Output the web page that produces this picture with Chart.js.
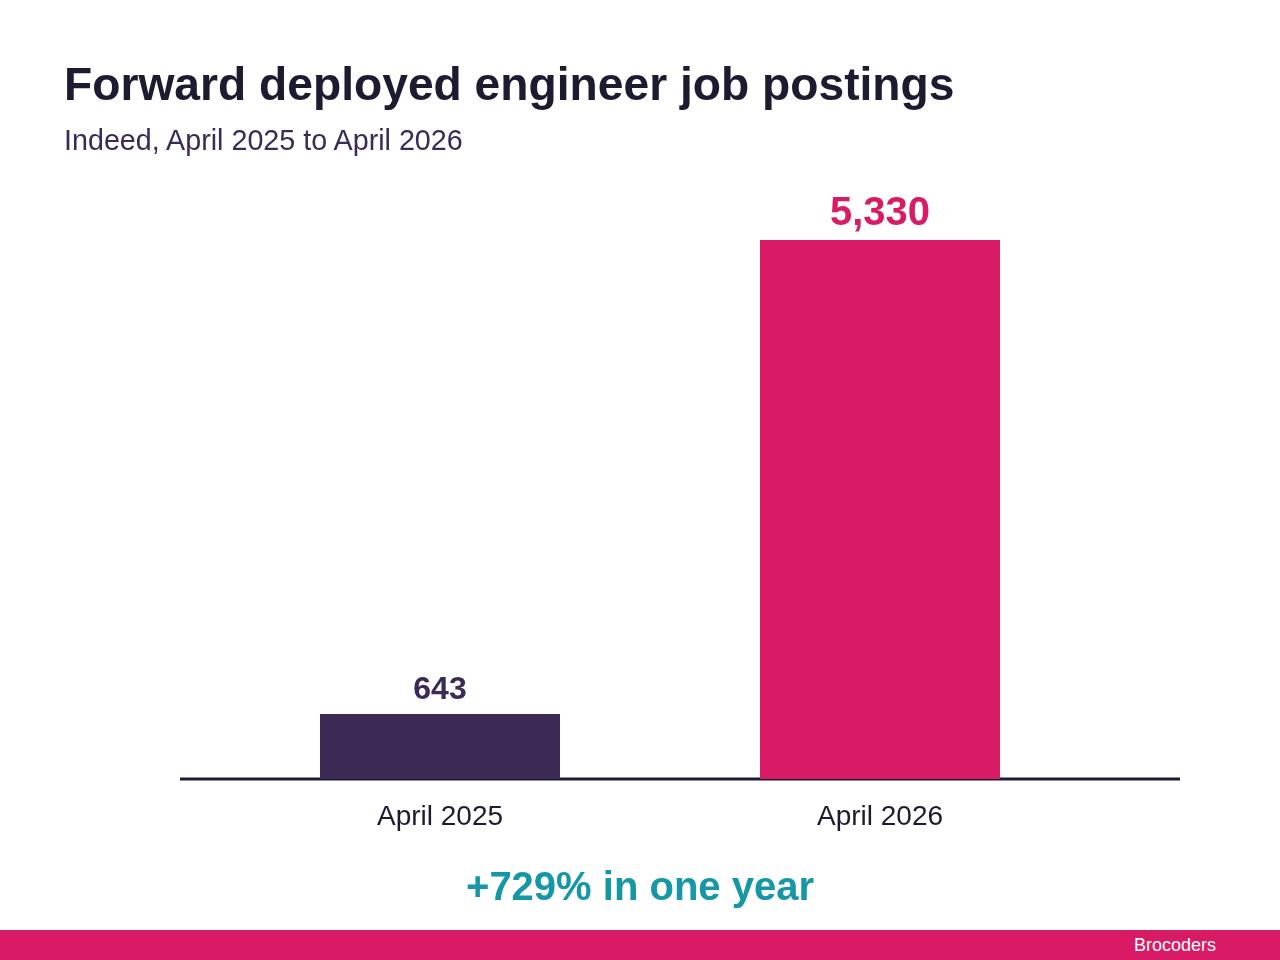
<!DOCTYPE html>
<html>
<head>
<meta charset="utf-8">
<script src="https://cdn.jsdelivr.net/npm/chart.js@4"></script>
<style>
  html, body { margin: 0; padding: 0; background: #fff; }
  body { width: 1280px; height: 960px; position: relative; overflow: hidden; font-family: "Liberation Sans", Arial, sans-serif; }
  #title { position: absolute; left: 64px; top: 57px; font-size: 46.2px; font-weight: bold; color: #1c1b30; }
  #subtitle { position: absolute; left: 64px; top: 124px; font-size: 28.7px; color: #3b2a55; }
  #wrap { position: absolute; left: 0; top: 0; width: 1280px; height: 960px; }
  #note { position: absolute; left: 0; width: 1280px; top: 864px; text-align: center; font-size: 40px; font-weight: bold; color: #1597a5; }
  #footer { position: absolute; left: 0; top: 930px; width: 1280px; height: 30px; background: #d91a64; }
  #footer span { position: absolute; right: 64px; top: 5px; color: #fff; font-size: 18px; }
</style>
</head>
<body>
<div id="wrap"><canvas id="chart"></canvas></div>
<div id="title">Forward deployed engineer job postings</div>
<div id="subtitle">Indeed, April 2025 to April 2026</div>
<div id="note">+729% in one year</div>
<div id="footer"><span>Brocoders</span></div>
<script>
const categories = ['April 2025', 'April 2026'];
const postings = [643, 5330];
const valueLabels = ['643', '5,330'];
const barColors = ['#3b2a55', '#d91a64'];

// baseline (wider than the plot area) and value labels above each bar
const decorPlugin = {
    id: 'decor',
    beforeDatasetsDraw(chart) {
        const ctx = chart.ctx;
        const area = chart.chartArea;
        ctx.save();
        ctx.strokeStyle = '#1c1b30';
        ctx.lineWidth = 3;
        ctx.beginPath();
        ctx.moveTo(area.left - 40, area.bottom);
        ctx.lineTo(area.right + 80, area.bottom);
        ctx.stroke();
        ctx.restore();
    },
    afterDatasetsDraw(chart) {
        const ctx = chart.ctx;
        const meta = chart.getDatasetMeta(0);
        ctx.save();
        ctx.textAlign = 'center';
        ctx.textBaseline = 'bottom';
        meta.data.forEach((bar, i) => {
            const big = i === 1;
            ctx.font = 'bold ' + (big ? 40 : 32) + 'px "Liberation Sans", Arial, sans-serif';
            ctx.fillStyle = barColors[i];
            ctx.fillText(valueLabels[i], bar.x, bar.y - (big ? 6 : 8));
        });
        ctx.restore();
    }
};

new Chart(document.getElementById('chart'), {
    type: 'bar',
    data: {
        labels: categories,
        datasets: [{
            data: postings,
            backgroundColor: barColors,
            barPercentage: 240 / 440,
            categoryPercentage: 1.0
        }]
    },
    options: {
        responsive: true,
        maintainAspectRatio: false,
        animation: false,
        layout: { padding: { left: 220, right: 180, top: 240, bottom: 0 } },
        plugins: { legend: { display: false }, tooltip: { enabled: false } },
        scales: {
            y: { display: false, min: 0, max: 5330 },
            x: {
                grid: { display: false, drawTicks: false },
                border: { display: false },
                ticks: {
                    color: '#1c1b30',
                    padding: 21,
                    font: { family: '"Liberation Sans", Arial, sans-serif', size: 28 }
                },
                afterFit(scale) { scale.height = 181; }
            }
        }
    },
    plugins: [decorPlugin]
});
</script>
</body>
</html>
